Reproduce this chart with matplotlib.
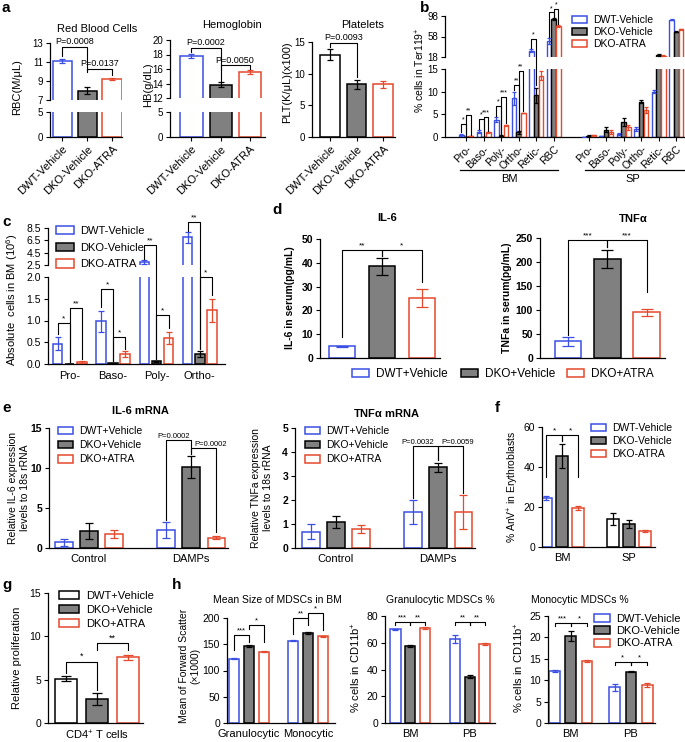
import matplotlib
matplotlib.use('Agg')
import matplotlib.pyplot as plt
from matplotlib.patches import Patch
from matplotlib.lines import Line2D
import numpy as np

plt.rcParams['font.family'] = ['Liberation Sans', 'DejaVu Sans']
plt.rcParams['mathtext.fontset'] = 'custom'
plt.rcParams['mathtext.rm'] = 'Liberation Sans'
plt.rcParams['mathtext.it'] = 'Liberation Sans:italic'
plt.rcParams['mathtext.bf'] = 'Liberation Sans:bold'
plt.rcParams['mathtext.default'] = 'regular'
plt.rcParams['axes.linewidth'] = 0.9

# ---- data ----
a_groups = ['DWT-Vehicle', 'DKO-Vehicle', 'DKO-ATRA']
rbc = [11.1, 8.0, 9.2]
rbc_err = [0.25, 0.4, 0.08]
hb = [17.8, 13.8, 15.6]
hb_err = [0.3, 0.35, 0.25]
plt_count = [13.0, 8.3, 8.3]
plt_count_err = [0.9, 0.7, 0.5]

b_cats = ['Pro-', 'Baso-', 'Poly-', 'Ortho-', 'Retic-', 'RBC']
b_bm_dwt = [0.5, 1.2, 3.8, 8.5, 30, 49]
b_bm_dwt_err = [0.2, 0.3, 0.6, 1.5, 3, 6]
b_bm_dko = [0.05, 0.05, 0.3, 1.0, 9.2, 92]
b_bm_dko_err = [0.02, 0.02, 0.1, 0.3, 1.7, 2]
b_bm_atra = [0.2, 1.0, 2.6, 5.3, 13.5, 78]
b_bm_atra_err = [0.05, 0.1, 0.1, 0.1, 1.0, 2]
b_sp_dwt = [0.05, 0.2, 0.7, 1.8, 10.0, 91]
b_sp_dwt_err = [0.02, 0.05, 0.2, 0.5, 0.4, 1]
b_sp_dko = [0.3, 1.6, 3.3, 7.8, 21, 67]
b_sp_dko_err = [0.05, 0.5, 0.8, 0.4, 2, 1]
b_sp_atra = [0.4, 1.1, 2.1, 6.0, 20, 72]
b_sp_atra_err = [0.1, 0.4, 0.6, 0.7, 1, 1]

c_cats = ['Pro-', 'Baso-', 'Poly-', 'Ortho-']
c_dwt = [0.47, 0.98, 3.0, 7.0]
c_dwt_err = [0.15, 0.24, 0.35, 0.9]
c_dko = [0.0, 0.02, 0.06, 0.22]
c_dko_err = [0.0, 0.01, 0.02, 0.07]
c_atra = [0.05, 0.23, 0.6, 1.23]
c_atra_err = [0.02, 0.06, 0.14, 0.27]

d_il6 = [5.0, 38.5, 25.2]
d_il6_err = [0.2, 3.5, 3.7]
d_tnf = [35, 206, 95]
d_tnf_err = [9, 18, 8]

e_groups = ['Control', 'DAMPs']
e_il6_dwt = [0.7, 2.25]
e_il6_dwt_err = [0.4, 0.95]
e_il6_dko = [2.15, 10.1]
e_il6_dko_err = [1.0, 1.4]
e_il6_atra = [1.75, 1.3]
e_il6_atra_err = [0.45, 0.15]
e_tnf_dwt = [0.68, 1.49]
e_tnf_dwt_err = [0.3, 0.5]
e_tnf_dko = [1.1, 3.36]
e_tnf_dko_err = [0.25, 0.2]
e_tnf_atra = [0.79, 1.49]
e_tnf_atra_err = [0.17, 0.7]

f_groups = ['BM', 'SP']
f_dwt = [24.5, 14.0]
f_dwt_err = [1.2, 2.8]
f_dko = [45.5, 11.5]
f_dko_err = [6.0, 1.8]
f_atra = [19.5, 8.0]
f_atra_err = [1.2, 0.3]

g_vals = [5.1, 2.8, 7.6]
g_err = [0.3, 0.7, 0.3]

h1_groups = ['Granulocytic', 'Monocytic']
h1_dwt = [122, 157]
h1_dwt_err = [1, 1.5]
h1_dko = [147, 172]
h1_dko_err = [2, 2]
h1_atra = [136, 165]
h1_atra_err = [1, 1]
h_groups = ['BM', 'PB']
h2_dwt = [70, 63]
h2_dwt_err = [0.5, 3]
h2_dko = [57.5, 34.5]
h2_dko_err = [0.6, 1.2]
h2_atra = [71, 59]
h2_atra_err = [0.5, 0.8]
h3_dwt = [12.1, 8.3]
h3_dwt_err = [0.2, 0.8]
h3_dko = [20.4, 12.0]
h3_dko_err = [1.2, 0.1]
h3_atra = [14.5, 8.9]
h3_atra_err = [0.3, 0.5]

BLUE = '#3b4fe4'
RED = '#e5492d'
GRAY = '#808080'
STY = {'dwt': (BLUE, 'white'), 'dko': ('black', GRAY), 'atra': (RED, 'white'), 'wt': ('black', 'white')}

W, H = 685, 742
fig = plt.figure(figsize=(W / 100, H / 100), dpi=100)


def box(x0, y0, x1, y1, fs=7.5):
    ax = fig.add_axes([x0 / W, 1 - y1 / H, (x1 - x0) / W, (y1 - y0) / H])
    ax.spines['top'].set_visible(False)
    ax.spines['right'].set_visible(False)
    ax.tick_params(direction='out', length=3, width=0.8, labelsize=fs, pad=2)
    return ax


def broken(x0, x1, y_top, y_hi, y_lo, y_bot, fs=7.5):
    hi = box(x0, y_top, x1, y_hi, fs)
    lo = box(x0, y_lo, x1, y_bot, fs)
    hi.spines['bottom'].set_visible(False)
    hi.tick_params(axis='x', bottom=False, labelbottom=False)
    return hi, lo


def series(axs, xs, vals, errs, kind, width, cap=2.5, lw=1.1):
    ec, fc = STY[kind]
    for ax in axs:
        ax.bar(xs, vals, width, color=fc, edgecolor=ec, linewidth=lw, zorder=2)
        ax.errorbar(xs, vals, yerr=errs, fmt='none', ecolor=ec, elinewidth=0.9,
                    capsize=cap, capthick=0.9, zorder=3)


def fig_pt(axp, x, v):
    if isinstance(axp, tuple):
        hi, lo = axp
        ax = hi if v >= hi.get_ylim()[0] else lo
    else:
        ax = axp
    return fig.transFigure.inverted().transform(ax.transData.transform((x, v)))


def sig(axp, x1, x2, y, y1, y2, txt, fs=6, tx=None):
    p = [fig_pt(axp, x1, y1), fig_pt(axp, x1, y), fig_pt(axp, x2, y), fig_pt(axp, x2, y2)]
    fig.add_artist(Line2D([q[0] for q in p], [q[1] for q in p], transform=fig.transFigure,
                          color='black', lw=0.8))
    if tx is None:
        mx = (p[1][0] + p[2][0]) / 2
    else:
        mx = fig_pt(axp, tx, y)[0]
    fig.text(mx, p[1][1] + 0.5 / H, txt, ha='center', va='bottom', fontsize=fs)


def ftext(x, y, s, **kw):
    kw.setdefault('ha', 'center')
    kw.setdefault('va', 'center')
    fig.text(x / W, 1 - y / H, s, **kw)


def fline(x0, x1, y):
    fig.add_artist(Line2D([x0 / W, x1 / W], [1 - y / H, 1 - y / H], transform=fig.transFigure,
                          color='black', lw=0.9))


def legend_at(x, y, labels, kinds, fs=7.5, spacing=0.1, hl=1.4):
    handles = [Patch(facecolor=STY[k][1], edgecolor=STY[k][0], linewidth=1.1) for k in kinds]
    fig.legend(handles, labels, loc='upper left', bbox_to_anchor=(x / W, 1 - y / H),
               frameon=False, fontsize=fs, labelspacing=spacing, handlelength=hl,
               handleheight=0.75, handletextpad=0.6, borderpad=0, borderaxespad=0)


def letter(x, y, s):
    ftext(x, y, s, fontsize=11, fontweight='bold', ha='left')


# ---- panel a ----
xa = np.arange(3)
kinds_a = ['dwt', 'dko', 'atra']
hi, lo = broken(50, 122, 43, 100, 112, 137, fs=7)
for i, k in enumerate(kinds_a):
    series((hi, lo), [xa[i]], [rbc[i]], [rbc_err[i]], k, 0.78)
hi.set_ylim(7, 13); hi.set_yticks([7, 9, 11, 13])
lo.set_ylim(0, 5); lo.set_yticks([0, 5])
for ax in (hi, lo):
    ax.set_xlim(-0.5, 2.4)
lo.set_xticks(xa)
lo.set_xticklabels(a_groups, rotation=45, ha='right', rotation_mode='anchor', fontsize=8)
sig((hi, lo), 0, 1, 12.6, 11.6, 10.2, 'P=0.0008', fs=6.5)
sig((hi, lo), 1, 2, 10.3, 9.9, 9.6, 'P=0.0137', fs=6.5)
ftext(97, 29, 'Red Blood Cells', fontsize=8)
ftext(17, 87, 'RBC(M/μL)', fontsize=8, rotation=90)

hi, lo = broken(170, 265, 40, 98, 112, 137, fs=7)
for i, k in enumerate(kinds_a):
    series((hi, lo), [xa[i]], [hb[i]], [hb_err[i]], k, 0.76)
hi.set_ylim(12, 20); hi.set_yticks([12, 14, 16, 18, 20])
lo.set_ylim(0, 5); lo.set_yticks([0, 5])
for ax in (hi, lo):
    ax.set_xlim(-0.74, 2.53)
lo.set_xticks(xa)
lo.set_xticklabels(a_groups, rotation=45, ha='right', rotation_mode='anchor', fontsize=8)
sig((hi, lo), 0, 1, 18.9, 18.3, 15.9, 'P=0.0002', fs=6.5)
sig((hi, lo), 1, 2, 16.55, 14.4, 16.0, 'P=0.0050', fs=6.5)
ftext(232, 25, 'Hemoglobin', fontsize=8)
ftext(148, 85, 'HB(g/dL)', fontsize=8, rotation=90)

ax = box(312, 42, 395, 137, fs=7)
for i, k in enumerate(['wt', 'dko', 'atra']):
    series([ax], [xa[i]], [plt_count[i]], [plt_count_err[i]], k, 0.75)
ax.set_ylim(0, 15); ax.set_yticks([0, 5, 10, 15])
ax.set_xlim(-0.68, 2.45)
ax.set_xticks(xa)
ax.set_xticklabels(a_groups, rotation=45, ha='right', rotation_mode='anchor', fontsize=8)
sig(ax, 0, 1, 14.9, 14.2, 9.4, 'P=0.0093', fs=6.5)
ftext(363, 25, 'Platelets', fontsize=8)
ftext(287, 82, 'PLT(K/μL)(x100)', fontsize=8, rotation=90)
letter(2, 8, 'a')

# ---- panel b ----
hb_ax, lb_ax = broken(445, 685, 16, 57, 69, 137, fs=7)
pb = (hb_ax, lb_ax)
xbm = np.arange(6)
xsp = np.arange(6) + 7
o = 0.27
series(pb, xbm - o, b_bm_dwt, b_bm_dwt_err, 'dwt', 0.26, cap=1.2, lw=1.0)
series(pb, xbm, b_bm_dko, b_bm_dko_err, 'dko', 0.26, cap=1.2, lw=1.0)
series(pb, xbm + o, b_bm_atra, b_bm_atra_err, 'atra', 0.26, cap=1.2, lw=1.0)
series(pb, xsp - o, b_sp_dwt, b_sp_dwt_err, 'dwt', 0.26, cap=1.2, lw=1.0)
series(pb, xsp, b_sp_dko, b_sp_dko_err, 'dko', 0.26, cap=1.2, lw=1.0)
series(pb, xsp + o, b_sp_atra, b_sp_atra_err, 'atra', 0.26, cap=1.2, lw=1.0)
hb_ax.set_ylim(18, 98); hb_ax.set_yticks([18, 58, 98])
lb_ax.set_ylim(0, 15); lb_ax.set_yticks([0, 5, 10, 15])
for ax in pb:
    ax.set_xlim(-1.2, 12.5)
lb_ax.set_xticks(list(xbm) + list(xsp))
lb_ax.set_xticklabels(b_cats + b_cats, rotation=45, ha='right', rotation_mode='anchor',
                      fontsize=7.5)
sig(pb, -o, 0, 2.9, 1.0, 0.3, '*', fs=5)
sig(pb, 0, o, 4.9, 0.3, 0.5, '**', fs=5)
sig(pb, 1 - o, 1, 3.9, 1.8, 0.3, '*', fs=5)
sig(pb, 1, 1 + o, 4.5, 0.3, 1.3, '***', fs=5)
sig(pb, 2 - o, 2, 6.9, 4.6, 0.5, '*', fs=5)
sig(pb, 2, 2 + o, 8.9, 0.5, 3.0, '***', fs=5)
sig(pb, 3 - o, 3, 11.5, 10.3, 1.5, '**', fs=5)
sig(pb, 3, 3 + o, 14.5, 1.5, 5.8, '**', fs=5)
sig(pb, 4 - o, 4, 53, 35, 11.5, '*', fs=5)
sig(pb, 5 - o, 5, 105, 58, 95, '*', fs=5)
sig(pb, 5, 5 + o, 112, 95, 82, '*', fs=5)
ftext(420, 70, '% cells in Ter119$^{+}$', fontsize=7.5, rotation=90)
fline(460, 558, 170)
fline(585, 685, 170)
ftext(509, 179, 'BM', fontsize=8)
ftext(633, 179, 'SP', fontsize=8)
legend_at(572, 15, a_groups, kinds_a, fs=7.5, spacing=0.2)
letter(420, 8, 'b')

# ---- panel c ----
hc, lc = broken(48, 225, 228, 265, 277, 364)
pc = (hc, lc)
xc = np.arange(4)
o = 0.28
series(pc, xc - o, c_dwt, c_dwt_err, 'dwt', 0.22, cap=2)
series(pc, xc, c_dko, c_dko_err, 'dko', 0.22, cap=2)
series(pc, xc + o, c_atra, c_atra_err, 'atra', 0.22, cap=2)
hc.set_ylim(2.5, 8.5); hc.set_yticks([2.5, 4.5, 6.5, 8.5])
lc.set_ylim(0, 2.0); lc.set_yticks([0, 0.5, 1.0, 1.5, 2.0])
lc.set_yticklabels(['0.0', '0.5', '1.0', '1.5', '2.0'])
for ax in pc:
    ax.set_xlim(-0.5, 3.58)
lc.set_xticks(xc)
lc.set_xticklabels(c_cats, fontsize=8)
lc.tick_params(axis='x', length=0, pad=5)
sig(pc, -o, 0, 0.95, 0.7, 0.05, '*', fs=6)
sig(pc, 0, o, 1.29, 0.05, 0.12, '**', fs=6)
sig(pc, 1 - o, 1, 1.72, 1.3, 0.08, '*', fs=6)
sig(pc, 1, 1 + o, 0.62, 0.08, 0.35, '*', fs=6)
sig(pc, 2 - o, 2, 5.74, 3.45, 0.12, '**', fs=6)
sig(pc, 2, 2 + o, 1.13, 0.12, 0.82, '*', fs=6)
sig(pc, 3 - o, 3, 9.5, 8.0, 0.35, '**', fs=6)
sig(pc, 3, 3 + o, 2.0, 0.35, 1.58, '*', fs=6)
ftext(12, 300, 'Absolute  cells in BM (10$^{6}$)', fontsize=8, rotation=90)
legend_at(56, 226, a_groups, kinds_a, fs=8, spacing=0.6, hl=1.6)
letter(2, 222, 'c')

# ---- panel d ----
ax = box(320, 239, 440, 358)
xd = np.arange(3)
for i, k in enumerate(kinds_a):
    series([ax], [xd[i]], [d_il6[i]], [d_il6_err[i]], k, 0.65, cap=4)
ax.set_ylim(0, 50); ax.set_yticks(range(0, 51, 10))
ax.set_xlim(-0.55, 2.45); ax.set_xticks([])
for t in ax.get_yticklabels():
    t.set_fontweight('bold')
sig(ax, 0, 1, 45.4, 9, 43, '**', fs=6)
sig(ax, 1, 2, 45.4, 43, 32, '*', fs=6)
ftext(290, 298, 'IL-6 in serum(pg/mL)', fontsize=7.5, fontweight='bold', rotation=90)
ftext(387, 218, 'IL-6', fontsize=8, fontweight='bold')

ax = box(540, 238, 665, 358)
for i, k in enumerate(kinds_a):
    series([ax], [xd[i]], [d_tnf[i]], [d_tnf_err[i]], k, 0.68, cap=4)
ax.set_ylim(0, 250); ax.set_yticks(range(0, 251, 50))
ax.set_xlim(-0.71, 2.46); ax.set_xticks([])
for t in ax.get_yticklabels():
    t.set_fontweight('bold')
sig(ax, 0, 1, 246, 48, 232, '***', fs=6)
sig(ax, 1, 2, 246, 232, 138, '***', fs=6)
ftext(507, 298, 'TNFa in serum(pg/mL)', fontsize=7.5, fontweight='bold', rotation=90)
ftext(633, 218, r'TNF$\alpha$', fontsize=8, fontweight='bold')
legend_at(352, 368, ['DWT+Vehicle'], ['dwt'], fs=8.5)
legend_at(461, 368, ['DKO+Vehicle'], ['dko'], fs=8.5)
legend_at(567, 368, ['DKO+ATRA'], ['atra'], fs=8.5)
letter(272, 210, 'd')

# ---- panel e ----
plus_labels = ['DWT+Vehicle', 'DKO+Vehicle', 'DKO+ATRA']
xe = np.arange(2)
o = 0.245
ax = box(49, 428, 228, 548)
series([ax], xe - o, e_il6_dwt, e_il6_dwt_err, 'dwt', 0.17, cap=3)
series([ax], xe, e_il6_dko, e_il6_dko_err, 'dko', 0.17, cap=3)
series([ax], xe + o, e_il6_atra, e_il6_atra_err, 'atra', 0.17, cap=3)
ax.set_ylim(0, 15); ax.set_yticks([0, 5, 10, 15])
ax.set_xlim(-0.39, 1.36)
ax.set_xticks(xe); ax.set_xticklabels(e_groups, fontsize=8)
ax.tick_params(axis='x', length=0, pad=4)
for t in ax.get_yticklabels():
    t.set_fontweight('bold')
sig(ax, 1 - o, 1, 13.5, 3.5, 11.8, 'P=0.0002', fs=5.5, tx=0.83)
sig(ax, 1, 1 + o, 12.5, 11.8, 2.0, 'P=0.0002', fs=5.5, tx=1.19)
ftext(19, 488, 'Relative IL-6 expression\nlevels to 18s rRNA', fontsize=7.5, rotation=90)
ftext(140, 411, 'IL-6 mRNA', fontsize=8, fontweight='bold')
legend_at(58, 426, plus_labels, kinds_a, fs=7.5, spacing=0.4)

ax = box(295, 428, 475, 548)
series([ax], xe - o, e_tnf_dwt, e_tnf_dwt_err, 'dwt', 0.17, cap=3)
series([ax], xe, e_tnf_dko, e_tnf_dko_err, 'dko', 0.17, cap=3)
series([ax], xe + o, e_tnf_atra, e_tnf_atra_err, 'atra', 0.17, cap=3)
ax.set_ylim(0, 5); ax.set_yticks(range(0, 6))
ax.set_xlim(-0.40, 1.36)
ax.set_xticks(xe); ax.set_xticklabels(e_groups, fontsize=8)
ax.tick_params(axis='x', length=0, pad=4)
for t in ax.get_yticklabels():
    t.set_fontweight('bold')
sig(ax, 1 - o, 1, 4.25, 2.1, 3.65, 'P=0.0032', fs=5.5, tx=0.80)
sig(ax, 1, 1 + o, 4.25, 3.65, 2.3, 'P=0.0059', fs=5.5, tx=1.19)
ftext(262, 488, 'Relative TNFa expression\nlevels to 18s rRNA', fontsize=7.5, rotation=90)
ftext(387, 413, r'TNF$\alpha$ mRNA', fontsize=8, fontweight='bold')
legend_at(305, 426, plus_labels, kinds_a, fs=7.5, spacing=0.4)
letter(2, 408, 'e')

# ---- panel f ----
ax = box(542, 427, 655, 547)
xf = np.arange(2)
o = 0.24
series([ax], xf[:1] - o, f_dwt[:1], f_dwt_err[:1], 'dwt', 0.17, cap=2.5)
series([ax], xf[1:] - o, f_dwt[1:], f_dwt_err[1:], 'wt', 0.17, cap=2.5)
series([ax], xf, f_dko, f_dko_err, 'dko', 0.17, cap=2.5)
series([ax], xf + o, f_atra, f_atra_err, 'atra', 0.17, cap=2.5)
ax.set_ylim(0, 60); ax.set_yticks([0, 20, 40, 60])
ax.set_xlim(-0.3, 1.39)
ax.set_xticks(xf); ax.set_xticklabels(f_groups, fontsize=8)
ax.tick_params(axis='x', length=0, pad=4)
sig(ax, -o, 0, 56, 35, 53, '*', fs=6)
sig(ax, 0, o, 56, 53, 35, '*', fs=6)
ftext(513, 487, '% AnV$^{+}$ in Erythroblasts', fontsize=7.5, rotation=90)
legend_at(591, 423, a_groups, kinds_a, fs=7.5, spacing=0.3)
letter(495, 408, 'f')

# ---- panel g ----
ax = box(48, 593, 143, 723)
xg = np.arange(3)
for i, k in enumerate(['wt', 'dko', 'atra']):
    series([ax], [xg[i]], [g_vals[i]], [g_err[i]], k, 0.7, cap=3.5)
ax.set_ylim(0, 15); ax.set_yticks([0, 5, 10, 15])
ax.set_xlim(-0.58, 2.48)
ax.set_xticks([1]); ax.set_xticklabels(['CD4$^{+}$ T cells'], fontsize=8)
ax.tick_params(axis='x', length=0, pad=4)
sig(ax, 0, 1, 7.07, 5.8, 3.8, '*', fs=6.5)
sig(ax, 1, 2, 9.26, 8.4, 8.4, '**', fs=6.5)
ftext(17, 658, 'Relative proliferation', fontsize=8, rotation=90)
legend_at(59, 591, plus_labels, ['wt', 'dko', 'atra'], fs=8, spacing=0.35, hl=1.8)
letter(2, 585, 'g')

# ---- panel h ----
xh = np.arange(2)
o = 0.25
ax = box(227, 618, 335, 723)
series([ax], xh - o, h1_dwt, h1_dwt_err, 'dwt', 0.17, cap=2)
series([ax], xh, h1_dko, h1_dko_err, 'dko', 0.17, cap=2)
series([ax], xh + o, h1_atra, h1_atra_err, 'atra', 0.17, cap=2)
ax.set_ylim(0, 200); ax.set_yticks(range(0, 201, 50))
ax.set_xlim(-0.37, 1.46)
ax.set_xticks(xh); ax.set_xticklabels(h1_groups, fontsize=8)
ax.tick_params(axis='x', length=0, pad=4)
sig(ax, -o, 0, 168, 140, 155, '***', fs=5.5)
sig(ax, 0, o, 187, 180, 155, '*', fs=5.5)
sig(ax, 1 - o, 1, 200, 170, 187, '**', fs=5.5)
sig(ax, 1, 1 + o, 210, 200, 178, '*', fs=5.5)
ftext(190, 666, 'Mean of Forward Scatter\n(×1000)', fontsize=7.5, rotation=90)
ftext(277, 600, 'Mean Size of MDSCs in BM', fontsize=7.5)

ax = box(385, 616, 495, 723)
series([ax], xh - o, h2_dwt, h2_dwt_err, 'dwt', 0.18, cap=2)
series([ax], xh, h2_dko, h2_dko_err, 'dko', 0.18, cap=2)
series([ax], xh + o, h2_atra, h2_atra_err, 'atra', 0.18, cap=2)
ax.set_ylim(0, 80); ax.set_yticks(range(0, 81, 20))
ax.set_xlim(-0.42, 1.42)
ax.set_xticks(xh); ax.set_xticklabels(h_groups, fontsize=8)
ax.tick_params(axis='x', length=0, pad=4)
sig(ax, -o, 0, 75.7, 73, 73, '***', fs=5.5)
sig(ax, 0, o, 75.7, 73, 73, '**', fs=5.5)
sig(ax, 1 - o, 1, 75.7, 73, 73, '**', fs=5.5)
sig(ax, 1, 1 + o, 75.7, 73, 73, '**', fs=5.5)
ftext(356, 668, '% cells in CD11b$^{+}$', fontsize=8, rotation=90)
ftext(440, 600, 'Granulocytic MDSCs %', fontsize=7.5)

ax = box(548, 616, 655, 723)
o = 0.27
series([ax], xh - o, h3_dwt, h3_dwt_err, 'dwt', 0.18, cap=2)
series([ax], xh, h3_dko, h3_dko_err, 'dko', 0.18, cap=2)
series([ax], xh + o, h3_atra, h3_atra_err, 'atra', 0.18, cap=2)
ax.set_ylim(0, 25); ax.set_yticks(range(0, 26, 5))
ax.set_xlim(-0.38, 1.4)
ax.set_xticks(xh); ax.set_xticklabels(h_groups, fontsize=8)
ax.tick_params(axis='x', length=0, pad=4)
sig(ax, -o, 0, 23.4, 22.6, 22.6, '***', fs=5.5)
sig(ax, 0, o, 23.4, 22.6, 22.6, '*', fs=5.5)
sig(ax, 1 - o, 1, 14.3, 13.5, 13.5, '*', fs=5.5)
sig(ax, 1, 1 + o, 14.3, 13.5, 13.5, '*', fs=5.5)
ftext(519, 668, '% cells in CD11b$^{+}$', fontsize=8, rotation=90)
ftext(580, 600, 'Monocytic MDSCs %', fontsize=7.5)
legend_at(594, 614, a_groups, kinds_a, fs=8, spacing=0.2)
letter(172, 585, 'h')

fig.savefig('out.png', dpi=100)
